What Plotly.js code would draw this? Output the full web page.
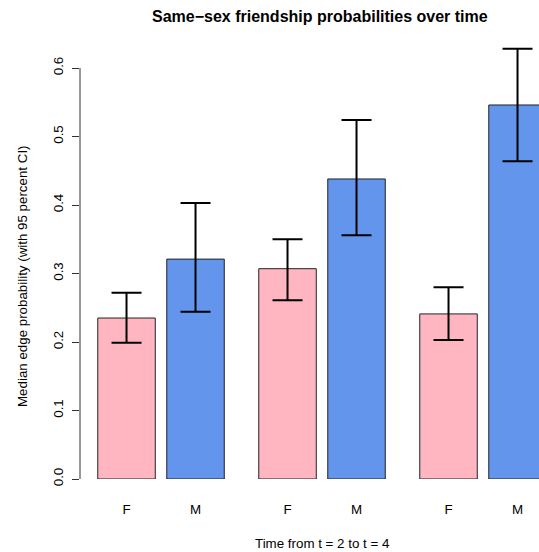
<!DOCTYPE html>
<html>
<head>
<meta charset="utf-8">
<script src="https://cdn.plot.ly/plotly-3.0.1.min.js"></script>
<style>html,body{margin:0;padding:0;background:#fff;}#chart{width:539px;height:552px;}</style>
</head>
<body>
<div id="chart"></div>
<script>
// Data
const groups = ["t2", "t3", "t4"];
const sexes = ["F", "M"];
const medians = [0.235, 0.321, 0.307, 0.438, 0.241, 0.546];
const ciLow   = [0.199, 0.244, 0.261, 0.356, 0.203, 0.464];
const ciHigh  = [0.272, 0.403, 0.350, 0.524, 0.280, 0.628];
const barColors = {F: "#FFB6C1", M: "#6495ED"};
const yTicks = [0, 0.1, 0.2, 0.3, 0.4, 0.5, 0.6];
const yTickText = ["0.0", "0.1", "0.2", "0.3", "0.4", "0.5", "0.6"];

// barplot-like layout: width 1, within-group space 0.2, between-group space 0.6
const offset = 0.809, within = 1.2, between = 2.8;
const xs = [], labels = [], colors = [];
groups.forEach((g, gi) => sexes.forEach((s, si) => {
  xs.push(offset + gi * between + si * within);
  labels.push(s);
  colors.push(barColors[s]);
}));

const trace = {
  type: "bar",
  x: xs,
  y: medians,
  width: 1,
  marker: {color: colors, line: {color: "#222", width: 1}},
  error_y: {
    type: "data", symmetric: false,
    array: medians.map((m, i) => ciHigh[i] - m),
    arrayminus: medians.map((m, i) => m - ciLow[i]),
    color: "#000", thickness: 2, width: 15
  },
  hoverinfo: "skip"
};

const font = {family: "Liberation Sans, Arial, sans-serif", color: "#000"};
const base = 13.33;
const L = 80, T = 40, B = 73, W = 539, H = 552;
const pw = W - L, ph = H - T - B;
const px2x = x => (x - L) / pw;
const px2y = y => (H - B - y) / ph;

const layout = {
  width: W, height: H,
  margin: {l: L, r: 0, t: T, b: B, pad: 0},
  paper_bgcolor: "#fff", plot_bgcolor: "#fff",
  showlegend: false,
  font: Object.assign({size: base}, font),
  xaxis: {
    range: [0, pw / 57.5],
    tickvals: xs, ticktext: labels,
    ticks: "", showline: false, showgrid: false, zeroline: false,
    tickfont: Object.assign({size: base}, font),
    ticklabelstandoff: 21
  },
  yaxis: {
    range: [0, ph / 685],
    tickvals: yTicks, ticktext: yTickText,
    ticks: "outside", ticklen: 7, tickcolor: "#333", tickwidth: 1,
    showline: false, showgrid: false, zeroline: false,
    tickangle: -90,
    tickfont: Object.assign({size: base}, font),
    ticklabelstandoff: 4
  },
  shapes: [{
    type: "line", xref: "paper", yref: "y",
    x0: 0, x1: 0, y0: yTicks[0], y1: yTicks[yTicks.length - 1],
    line: {color: "#333", width: 1}
  }],
  annotations: [
    {text: "<b>Same\u2212sex friendship probabilities over time</b>", xref: "paper", yref: "paper",
     x: px2x(320), y: px2y(16), xanchor: "center", yanchor: "middle", showarrow: false,
     font: Object.assign({size: 16}, font)},
    {text: "Time from t = 2 to t = 4", xref: "paper", yref: "paper",
     x: px2x(322), y: px2y(543), xanchor: "center", yanchor: "middle", showarrow: false,
     font: Object.assign({size: base}, font)},
    {text: "Median edge probability (with 95 percent CI)", xref: "paper", yref: "paper",
     x: px2x(22), y: px2y(276), xanchor: "center", yanchor: "middle", textangle: -90, showarrow: false,
     font: Object.assign({size: base}, font)}
  ]
};

Plotly.newPlot("chart", [trace], layout, {staticPlot: true, displayModeBar: false});
</script>
</body>
</html>
